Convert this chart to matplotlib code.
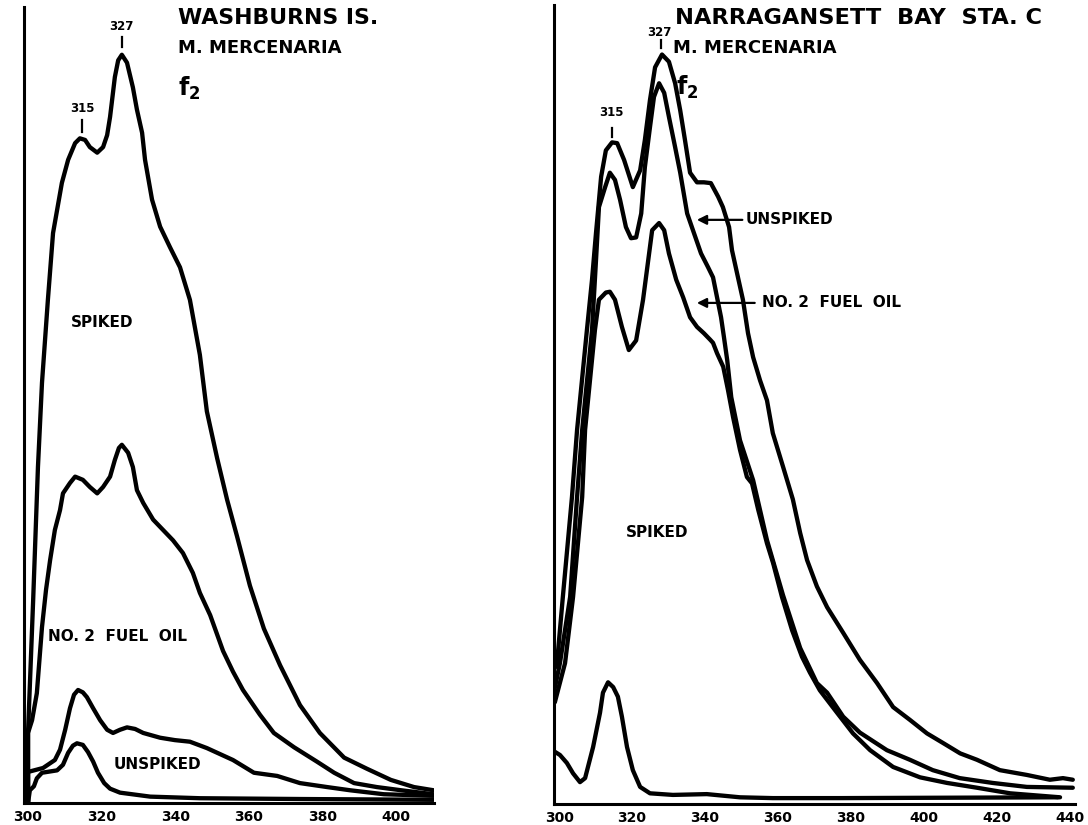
import matplotlib
matplotlib.use("Agg")
import matplotlib.pyplot as plt

# ---------------- data: left panel (Washburns Is.) ----------------
L_ticks = [300, 320, 340, 360, 380, 400]
L_spiked_x = [300.0, 300.0, 301.4, 302.7, 303.8, 305.4, 306.8, 309.2, 310.9, 312.8, 314.1, 315.5, 316.8,
              318.8, 320.4, 321.5, 322.3, 323.6, 324.5, 325.5, 326.9, 328.5, 329.6, 331.0, 331.8, 333.7,
              335.9, 338.6, 341.3, 344.0, 346.7, 348.6, 351.4, 354.1, 356.8, 360.3, 364.1, 368.5, 373.9,
              379.3, 385.9, 392.1, 398.6, 404.9, 410.2]
L_spiked_y = [0.0, 8.8, 25.5, 42.2, 52.8, 63.2, 71.6, 77.9, 80.8, 82.9, 83.5, 83.3, 82.4,
              81.7, 82.4, 83.9, 86.2, 91.2, 93.3, 94.0, 93.0, 89.9, 87.1, 84.2, 80.8, 75.8,
              72.4, 69.8, 67.3, 63.2, 56.3, 49.2, 43.3, 38.1, 33.5, 27.3, 21.9, 17.3, 12.3,
              8.8, 5.7, 4.3, 2.9, 2.0, 1.6]
L_fuel_x = [300.0, 300.0, 301.1, 302.4, 303.8, 304.9, 306.0, 307.3, 308.7, 309.5, 311.4, 312.8, 314.9,
            316.8, 318.8, 320.4, 322.3, 323.6, 324.7, 325.5, 327.2, 328.5, 329.6, 331.3, 334.0, 336.7,
            339.4, 342.1, 344.8, 346.7, 349.5, 353.0, 355.7, 358.4, 363.0, 366.8, 372.3, 378.5, 383.2,
            388.6, 394.8, 401.4, 410.2]
L_fuel_y = [0.0, 8.8, 10.4, 13.8, 22.1, 26.8, 30.5, 34.3, 36.8, 38.9, 40.2, 41.0, 40.6,
            39.7, 38.9, 39.7, 41.0, 43.1, 44.6, 45.0, 44.0, 42.2, 39.3, 37.7, 35.6, 34.3,
            33.0, 31.4, 28.9, 26.4, 23.6, 19.1, 16.5, 14.2, 11.1, 8.8, 7.0, 5.2, 3.8,
            2.5, 2.0, 1.6, 1.1]
L_unspA_x = [300.0, 300.0, 304.1, 307.3, 308.7, 310.1, 311.4, 312.5, 313.6, 314.9, 316.0, 317.7, 319.6,
             321.5, 323.1, 325.0, 326.9, 329.1, 331.3, 335.9, 339.9, 344.0, 348.6, 355.7, 361.4, 367.7,
             373.9, 381.3, 387.5, 396.7, 410.2]
L_unspA_y = [0.0, 3.9, 4.4, 5.4, 6.7, 9.2, 11.9, 13.6, 14.2, 13.9, 13.3, 11.9, 10.4,
             9.2, 8.8, 9.2, 9.5, 9.3, 8.8, 8.2, 7.9, 7.7, 6.9, 5.4, 3.8, 3.4,
             2.5, 2.0, 1.6, 1.1, 0.9]
L_unspB_x = [300.0, 300.5, 301.6, 302.4, 303.8, 307.9, 309.5, 310.9, 312.2, 313.3, 314.9, 316.3, 317.7,
             319.0, 320.7, 322.3, 325.0, 333.2, 346.7, 373.9, 410.2]
L_unspB_y = [0.0, 1.6, 2.1, 3.1, 3.8, 4.1, 4.8, 6.3, 7.2, 7.5, 7.3, 6.4, 5.2,
             3.8, 2.5, 1.8, 1.3, 0.8, 0.6, 0.5, 0.4]

# ---------------- data: right panel (Narragansett Bay Sta. C) ----------------
R_ticks = [300, 320, 340, 360, 380, 400, 420, 440]
R_c1_x = [298.8, 299.4, 301.0, 303.5, 304.9, 307.6, 309.0, 310.1, 311.5, 312.8, 314.5, 315.9, 317.8,
          320.2, 322.2, 323.5, 324.9, 326.3, 328.2, 330.1, 331.8, 333.2, 334.5, 335.9, 337.8, 339.7,
          341.6, 343.6, 344.9, 346.6, 347.4, 348.8, 350.4, 351.8, 353.2, 355.1, 357.0, 358.6, 361.4,
          364.1, 366.1, 368.0, 370.7, 373.5, 377.9, 382.5, 387.2, 391.6, 396.2, 400.9, 405.3, 410.0,
          414.6, 420.9, 428.3, 434.6, 438.2, 440.9]
R_c1_y = [17.0, 17.6, 25.9, 38.4, 46.8, 59.3, 65.6, 71.5, 78.5, 81.8, 82.8, 82.7, 80.6,
          77.2, 79.3, 83.1, 88.1, 92.2, 93.8, 92.9, 90.2, 86.8, 83.1, 79.0, 77.8, 77.8,
          77.7, 76.0, 74.7, 72.2, 69.3, 66.4, 63.1, 58.9, 55.9, 53.0, 50.5, 46.4, 42.2,
          38.1, 33.9, 30.5, 27.2, 24.6, 21.4, 18.0, 15.1, 12.1, 10.5, 8.8, 7.6, 6.3,
          5.5, 4.2, 3.6, 3.0, 3.2, 3.0]
R_c2_x = [298.8, 300.2, 303.0, 304.9, 306.3, 309.0, 310.1, 310.9, 312.6, 313.9, 315.3, 316.7, 318.3,
          319.7, 321.1, 322.5, 323.5, 324.9, 326.0, 327.4, 328.8, 330.1, 331.8, 333.2, 335.1, 337.0,
          338.9, 340.8, 342.2, 343.3, 344.4, 345.2, 346.1, 347.2, 349.6, 353.2, 357.0, 361.4, 366.1,
          370.7, 373.5, 377.9, 382.5, 389.9, 396.2, 402.5, 409.9, 418.9, 428.3, 440.9]
R_c2_y = [14.5, 17.6, 25.9, 38.4, 46.8, 59.3, 68.1, 74.7, 77.2, 79.0, 78.1, 75.6, 72.2,
          70.8, 70.9, 73.9, 79.7, 84.7, 88.5, 90.2, 89.0, 86.0, 82.2, 79.0, 73.9, 71.4,
          68.9, 67.2, 65.9, 63.4, 60.9, 58.4, 55.5, 50.9, 45.5, 40.5, 33.0, 26.1, 19.5,
          15.1, 13.9, 10.9, 8.9, 6.7, 5.5, 4.2, 3.2, 2.6, 2.1, 2.0]
R_c3_x = [298.8, 301.6, 303.8, 306.3, 307.1, 309.8, 310.9, 312.8, 313.9, 315.3, 317.2, 319.1, 321.1,
          323.0, 325.5, 327.4, 328.8, 330.1, 332.1, 334.0, 335.9, 337.8, 339.7, 341.4, 342.2, 343.3,
          345.0, 346.3, 347.7, 349.6, 351.5, 352.9, 354.6, 357.0, 358.7, 361.1, 363.9, 366.6, 368.8, 371.5,
          376.2, 380.6, 385.3, 391.6, 399.0, 406.4, 414.6, 423.7, 437.4]
R_c3_y = [12.7, 17.6, 25.9, 38.4, 46.8, 59.3, 63.1, 64.0, 64.1, 63.1, 59.7, 56.8, 58.0,
          63.1, 71.8, 72.7, 71.8, 68.9, 65.6, 63.4, 60.9, 59.7, 58.9, 58.1, 57.7, 56.4,
          54.7, 51.8, 48.4, 44.3, 40.9, 40.1, 36.8, 32.6, 30.1, 25.9, 21.7, 18.4, 16.4, 14.2,
          11.4, 8.8, 6.7, 4.6, 3.3, 2.6, 2.0, 1.3, 0.8]
R_c4_x = [298.8, 300.2, 302.1, 303.8, 305.7, 307.1, 309.3, 311.2, 312.0, 313.4, 314.8, 316.1, 317.2,
          318.6, 320.2, 322.2, 324.9, 331.2, 340.5, 349.6, 358.6, 377.0, 436.8]
R_c4_y = [6.5, 6.1, 5.1, 3.8, 2.7, 3.2, 7.1, 11.4, 13.9, 15.2, 14.6, 13.4, 10.9,
          7.1, 4.2, 2.1, 1.3, 1.1, 1.2, 0.8, 0.7, 0.7, 0.8]

# ---------------- drawing ----------------
plt.rcParams['font.family'] = ['DejaVu Sans']
fig = plt.figure(figsize=(10.88, 8.25), dpi=100)
fig.patch.set_facecolor('white')

LW = 3.1
SPW = 2.2
BOLD = dict(fontweight='bold', color='black')
LAB = 11

def setup(ax, xlim, ticks):
    ax.set_xlim(*xlim)
    ax.set_ylim(0, 100)
    for s in ('top', 'right'):
        ax.spines[s].set_visible(False)
    for s in ('left', 'bottom'):
        ax.spines[s].set_linewidth(SPW)
        ax.spines[s].set_color('black')
    ax.set_xticks(ticks)
    ax.set_xticklabels([str(t) for t in ticks], fontsize=10, fontweight='bold')
    ax.tick_params(axis='x', length=0, pad=5)
    ax.set_yticks([])
    ax.set_facecolor('white')

axL = fig.add_axes([0.02206, 0.02667, 0.37656, 0.96485])
setup(axL, (298.91, 410.24), L_ticks)
for xs, ys in [(L_spiked_x, L_spiked_y), (L_fuel_x, L_fuel_y),
               (L_unspA_x, L_unspA_y), (L_unspB_x, L_unspB_y)]:
    axL.plot(xs, ys, color='black', lw=LW, solid_joinstyle='round', solid_capstyle='round')

axL.text(340.8, 98.6, 'WASHBURNS IS.', fontsize=15.8, ha='left', va='center', **BOLD)
axL.text(340.8, 94.8, 'M. MERCENARIA', fontsize=13, ha='left', va='center', **BOLD)
axL.text(340.8, 89.8, r'$\mathbf{f_2}$', fontsize=17, ha='left', va='center', color='black')
axL.text(325.5, 97.5, '327', fontsize=8.5, ha='center', va='center', **BOLD)
axL.plot([325.5, 325.5], [96.2, 95.0], color='black', lw=1.6)
axL.text(314.7, 87.3, '315', fontsize=8.5, ha='center', va='center', **BOLD)
axL.plot([314.7, 314.7], [85.8, 84.3], color='black', lw=1.6)
axL.text(320.1, 60.4, 'SPIKED', fontsize=LAB, ha='center', va='center', **BOLD)
axL.text(324.2, 20.9, 'NO. 2  FUEL  OIL', fontsize=LAB, ha='center', va='center', **BOLD)
axL.text(335.1, 4.8, 'UNSPIKED', fontsize=LAB, ha='center', va='center', **BOLD)

axR = fig.add_axes([0.50919, 0.02582, 0.47868, 0.96812])
setup(axR, (298.57, 441.45), R_ticks)
for xs, ys in [(R_c1_x, R_c1_y), (R_c2_x, R_c2_y), (R_c3_x, R_c3_y), (R_c4_x, R_c4_y)]:
    axR.plot(xs, ys, color='black', lw=LW, solid_joinstyle='round', solid_capstyle='round')

axR.text(331.7, 98.4, 'NARRAGANSETT  BAY  STA. C', fontsize=16.2, ha='left', va='center', **BOLD)
axR.text(331.2, 94.6, 'M. MERCENARIA', fontsize=13, ha='left', va='center', **BOLD)
axR.text(332.0, 89.7, r'$\mathbf{f_2}$', fontsize=17, ha='left', va='center', color='black')
axR.text(327.4, 96.6, '327', fontsize=8.5, ha='center', va='center', **BOLD)
axR.plot([327.8, 327.8], [95.6, 94.6], color='black', lw=1.6)
axR.text(314.4, 86.6, '315', fontsize=8.5, ha='center', va='center', **BOLD)
axR.plot([314.4, 314.4], [84.6, 83.5], color='black', lw=1.6)
axR.text(326.8, 33.9, 'SPIKED', fontsize=LAB, ha='center', va='center', **BOLD)
axR.text(351.2, 73.1, 'UNSPIKED', fontsize=LAB, ha='left', va='center', **BOLD)
axR.annotate('', xy=(337.0, 73.1), xytext=(351.0, 73.1),
             arrowprops=dict(arrowstyle='-|>', color='black', lw=1.6, mutation_scale=14))
axR.text(355.6, 62.7, 'NO. 2  FUEL  OIL', fontsize=LAB, ha='left', va='center', **BOLD)
axR.annotate('', xy=(337.0, 62.7), xytext=(354.4, 62.7),
             arrowprops=dict(arrowstyle='-|>', color='black', lw=1.6, mutation_scale=14))

fig.savefig('out.png', dpi=100, facecolor='white')
